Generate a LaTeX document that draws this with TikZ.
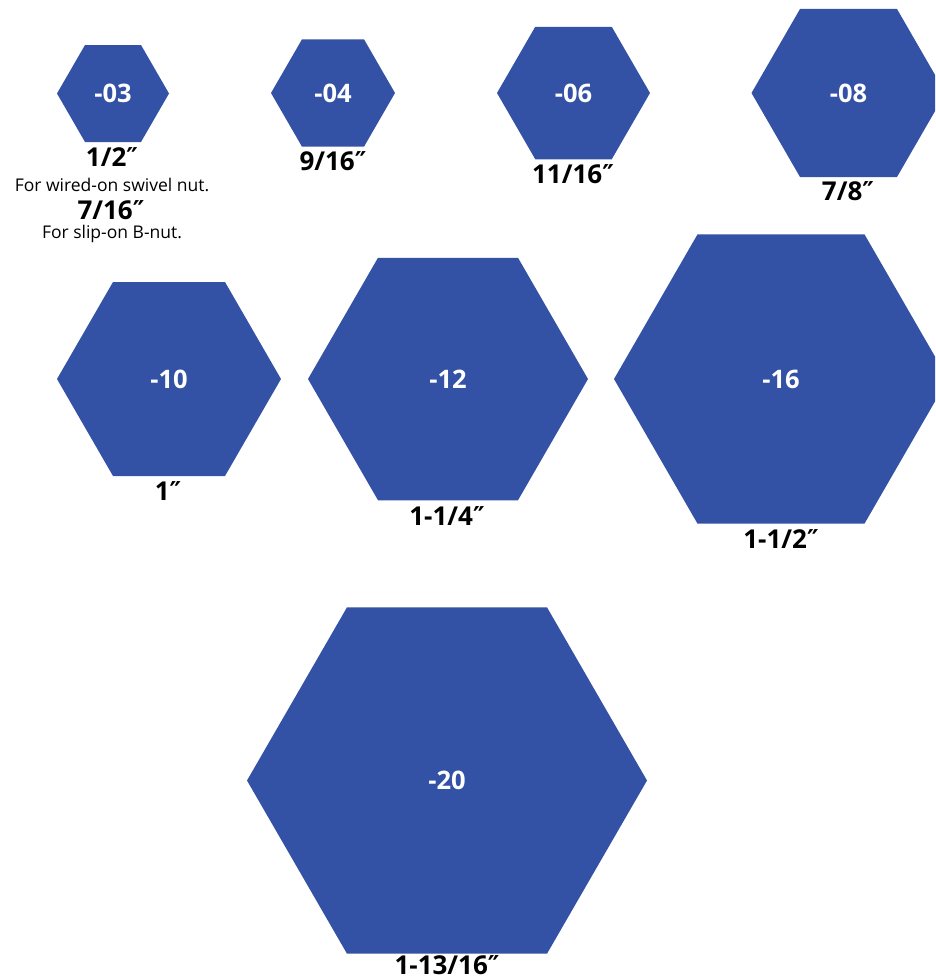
\documentclass[tikz,border=0pt]{standalone}
\usepackage{fontspec}
\setmainfont{Open Sans}
\newfontfamily\primefont{DejaVu Sans}
\newcommand{\dprm}{{\primefont\bfseries ″}}
\usetikzlibrary{shapes.geometric}
\definecolor{hexblue}{RGB}{51,81,165}
\begin{document}
\begin{tikzpicture}[x=1pt,y=-1pt,
  hexnut/.style={regular polygon, regular polygon sides=6, fill=hexblue, draw=none,
    inner sep=0pt, outer sep=0pt, text=white, font=\bfseries\fontsize{25.5}{29}\selectfont},
  sizelabel/.style={inner sep=0pt, text=black, font=\bfseries\fontsize{26}{30}\selectfont},
  note/.style={inner sep=0pt, text=black, font=\fontsize{17.5}{20}\selectfont}]
\useasboundingbox (0,0) rectangle (935,980);
\clip (0,0) rectangle (935,980);
% hexagons
\node[hexnut, minimum size=112pt] (h03) at (113,93.5) {-03};
\node[hexnut, minimum size=124pt] (h04) at (333,93) {-04};
\node[hexnut, minimum size=153pt] (h06) at (573.5,93) {-06};
\node[hexnut, minimum size=194pt] (h08) at (848.5,93) {-08};
\node[hexnut, minimum size=224pt] (h10) at (169,379) {-10};
\node[hexnut, minimum size=280pt] (h12) at (448,379) {-12};
\node[hexnut, minimum size=334pt] (h16) at (781,379) {-16};
\node[hexnut, minimum size=400pt] (h20) at (447,780.5) {-20};
% size labels
\node[sizelabel] (l03) at (112,157) {1/2\dprm};
\node[note] (n03a) at (112,185) {For wired-on swivel nut.};
\node[sizelabel] (l03b) at (111,210.5) {7/16\dprm};
\node[note] (n03b) at (112,234) {For slip-on B-nut.};
\node[sizelabel] (l04) at (333,161) {9/16\dprm};
\node[sizelabel] (l06) at (573,174) {11/16\dprm};
\node[sizelabel] (l08) at (848,191) {7/8\dprm};
\node[sizelabel] (l10) at (168,491) {1\dprm};
\node[sizelabel] (l12) at (447,516) {1-1/4\dprm};
\node[sizelabel] (l16) at (781,539) {1-1/2\dprm};
\node[sizelabel] (l20) at (447,965) {1-13/16\dprm};
\end{tikzpicture}
\end{document}
